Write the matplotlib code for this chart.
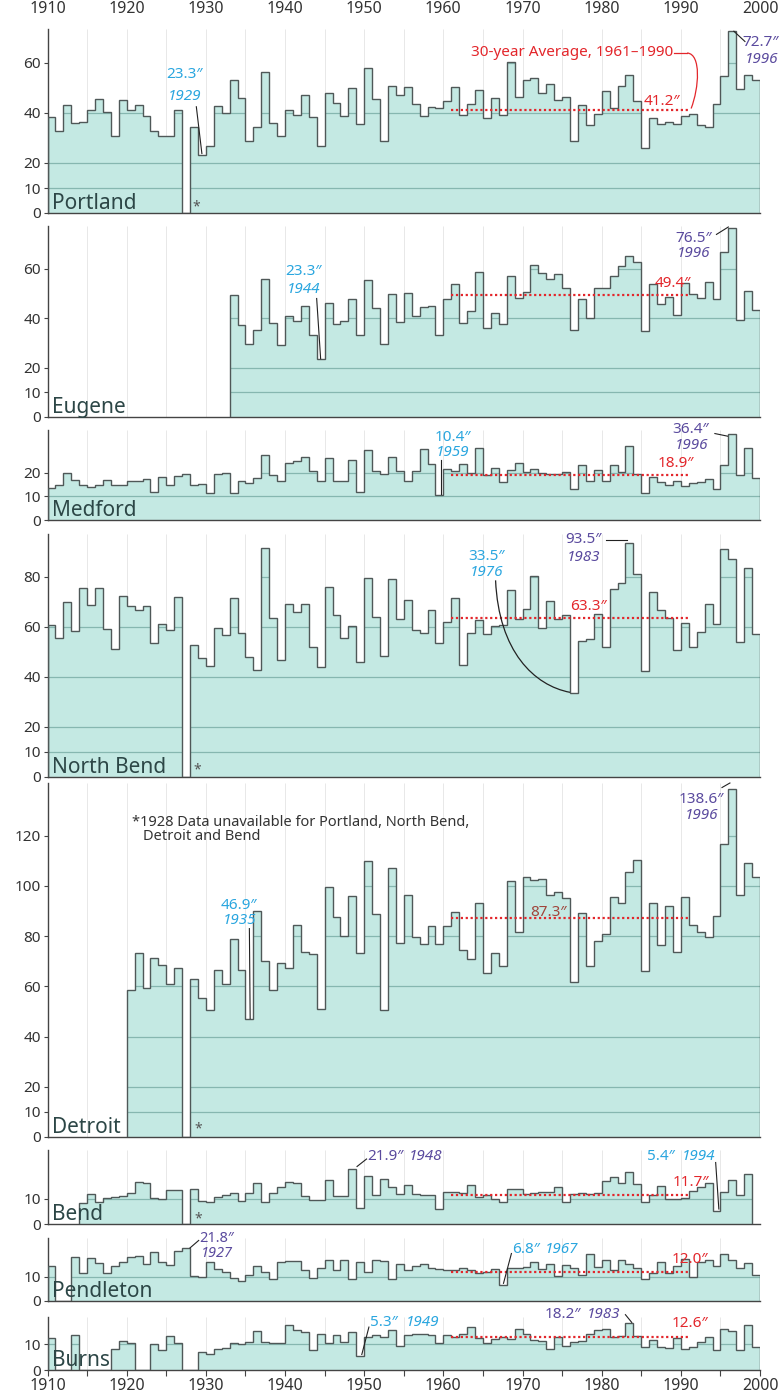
import numpy as np
import matplotlib.pyplot as plt
from matplotlib.path import Path
from matplotlib.patches import PathPatch

nan = np.nan
plt.rcParams['font.family'] = ['Noto Sans', 'DejaVu Sans']

# ---- data (annual precipitation, inches) ----
decades = list(range(1910, 2001, 10))

portland_start = 1910
portland = [38.3, 32.7, 43.3, 36.0, 36.3, 41.0, 45.7, 40.3, 31.0, 45.3,
            41.3, 43.0, 38.7, 32.7, 31.0, 31.0, 41.3, nan, 34.4, 23.3,
            27.0, 42.7, 40.0, 53.0, 46.0, 29.0, 34.3, 56.5, 36.0, 30.7,
            41.0, 39.0, 47.3, 38.3, 27.0, 48.0, 44.0, 38.7, 50.0, 35.6,
            58.0, 45.6, 29.0, 50.7, 47.0, 50.4, 43.6, 38.7, 42.3, 42.0,
            44.8, 50.3, 39.3, 43.7, 49.3, 38.0, 45.9, 39.3, 60.3, 46.4,
            53.3, 54.0, 48.0, 51.7, 45.3, 46.4, 28.7, 43.2, 35.0, 39.7,
            48.7, 41.9, 50.8, 55.3, 44.9, 26.1, 38.0, 35.7, 36.4, 35.6,
            38.7, 39.7, 35.3, 34.4, 43.7, 54.9, 72.7, 49.6, 55.3, 53.3]

eugene_start = 1933
eugene = [49.3, 37.0, 29.7, 35.0, 55.7, 38.1, 29.0, 41.0, 39.0, 44.7,
          33.3, 23.3, 46.0, 37.7, 38.7, 47.7, 33.0, 55.3, 44.0, 29.6,
          49.6, 38.3, 50.0, 41.0, 44.3, 45.0, 33.3, 47.6, 53.9, 38.0,
          42.7, 58.7, 36.0, 42.0, 37.6, 57.0, 48.3, 50.7, 61.3, 58.3,
          55.7, 57.6, 52.3, 35.3, 47.7, 40.0, 52.0, 52.0, 57.0, 61.0,
          65.0, 62.7, 34.7, 53.7, 45.6, 48.7, 41.3, 54.0, 49.6, 48.3,
          54.7, 47.6, 66.7, 76.5, 39.3, 51.0, 43.3]

medford_start = 1910
medford = [13.6, 14.6, 20.0, 17.0, 14.7, 13.9, 14.6, 17.0, 14.7, 14.7,
           16.6, 16.3, 17.4, 12.0, 18.0, 14.7, 18.4, 19.3, 14.6, 15.2,
           11.6, 19.3, 19.7, 11.6, 16.3, 15.6, 17.7, 27.5, 18.8, 16.6,
           24.2, 24.8, 26.5, 20.7, 16.3, 26.1, 16.3, 16.6, 25.2, 11.8,
           29.7, 20.7, 19.3, 26.7, 20.7, 16.6, 20.7, 29.9, 23.5, 10.4,
           21.4, 20.7, 23.8, 19.7, 30.3, 18.8, 21.8, 15.9, 21.1, 24.2,
           20.1, 21.4, 19.7, 19.3, 19.3, 20.4, 12.9, 23.1, 16.3, 21.1,
           16.6, 23.1, 20.1, 31.3, 19.3, 11.6, 18.0, 16.1, 14.7, 16.3,
           14.3, 15.6, 16.1, 17.4, 12.9, 23.1, 36.4, 19.0, 30.3, 17.7]

northbend_start = 1910
northbend = [60.5, 55.3, 70.0, 58.3, 75.6, 68.7, 75.6, 59.2, 51.0, 72.3,
             68.3, 66.7, 68.3, 53.6, 61.2, 58.5, 71.9, nan, 52.7, 47.6,
             44.3, 59.6, 56.7, 71.3, 57.6, 47.9, 42.7, 91.6, 63.6, 46.9,
             68.9, 66.0, 68.9, 51.9, 44.0, 76.0, 64.7, 55.3, 60.3, 45.9,
             79.6, 63.9, 48.5, 79.2, 63.2, 70.5, 58.5, 57.3, 66.5, 53.6,
             61.9, 71.3, 44.9, 57.6, 62.7, 57.2, 60.3, 60.7, 74.7, 62.9,
             66.9, 80.3, 59.6, 70.3, 62.9, 64.7, 33.5, 54.3, 54.9, 65.2,
             51.9, 74.9, 77.6, 93.5, 80.9, 42.3, 74.0, 66.5, 63.6, 50.5,
             61.6, 51.9, 58.0, 69.2, 60.9, 90.9, 86.9, 54.0, 83.6, 57.2]

detroit_start = 1920
detroit = [58.4, 73.3, 59.5, 71.4, 68.5, 61.0, 67.2, nan, 63.0, 55.5,
           50.5, 66.5, 61.0, 79.0, 66.5, 46.9, 90.0, 70.0, 58.5, 69.5,
           67.5, 84.5, 73.5, 73.0, 51.0, 99.7, 87.5, 80.2, 95.8, 73.2,
           110.0, 88.9, 50.5, 107.0, 77.2, 96.4, 79.6, 76.7, 84.2, 76.7,
           84.2, 89.5, 74.5, 70.7, 93.1, 65.3, 73.3, 68.0, 102.0, 81.8,
           103.4, 102.5, 102.8, 96.2, 97.5, 95.2, 61.9, 89.1, 68.0, 78.2,
           80.9, 95.5, 93.1, 105.4, 110.3, 66.0, 93.1, 76.3, 91.9, 73.6,
           95.5, 84.6, 81.6, 79.6, 88.2, 116.7, 138.6, 96.2, 109.0, 103.7]

bend_start = 1914
bend = [8.3, 12.0, 8.9, 10.3, 10.9, 11.2,
        12.5, 16.9, 16.3, 10.3, 9.9, 13.6, 13.6, nan, 13.9, 9.2,
        8.9, 10.9, 11.6, 12.5, 9.2, 12.3, 16.3, 8.9, 12.3, 14.9,
        16.9, 16.3, 11.2, 9.6, 9.6, 17.6, 11.2, 11.2, 21.9, 6.3,
        19.2, 11.6, 18.0, 14.7, 12.0, 15.6, 12.0, 11.6, 11.6, 6.0,
        12.9, 12.9, 12.5, 15.6, 10.9, 11.6, 9.9, 8.9, 14.0, 13.9,
        12.0, 12.5, 12.9, 12.9, 14.9, 8.9, 12.0, 12.3, 12.0, 12.3,
        17.3, 18.7, 16.3, 20.9, 16.0, 8.9, 11.6, 15.2, 9.9, 9.9,
        10.3, 13.3, 14.9, 16.3, 5.4, 12.9, 17.6, 11.6, 19.9]

pendleton_start = 1910
pendleton = [14.6, nan, nan, 18.3, 11.7, 17.6, 15.7, 11.4, 14.6, 16.0,
             18.1, 18.6, 15.4, 20.3, 16.0, 15.0, 20.8, 21.8, 10.3, 10.0,
             16.0, 13.1, 12.1, 9.3, 8.3, 10.7, 14.6, 12.1, 8.9, 16.0,
             16.4, 16.4, 12.9, 9.3, 13.6, 17.1, 12.9, 17.1, 8.9, 16.0,
             12.1, 17.1, 16.4, 8.9, 15.4, 12.9, 14.3, 15.4, 13.6, 13.1,
             12.9, 12.6, 13.6, 12.9, 11.7, 12.1, 13.1, 6.8, 13.6, 13.6,
             14.0, 16.0, 13.1, 15.4, 10.3, 15.0, 13.6, 10.7, 19.3, 14.0,
             17.1, 12.9, 17.1, 15.4, 13.6, 8.9, 11.7, 16.0, 11.4, 14.3,
             17.4, 10.0, 16.0, 17.1, 14.6, 19.3, 17.1, 13.6, 15.7, 10.7]

burns_start = 1910
burns = [12.2, nan, nan, 13.7, nan, nan, nan, nan, 8.0, 11.2,
         10.5, nan, nan, 9.9, 7.7, 13.1, 10.6, nan, nan, 6.8,
         6.2, 8.0, 8.6, 10.5, 9.9, 10.9, 15.1, 10.9, 10.6, 10.3,
         17.3, 15.6, 14.7, 7.7, 13.8, 10.5, 13.7, 10.9, 14.7, 5.3,
         12.8, 13.7, 12.8, 15.6, 9.2, 13.5, 14.1, 14.1, 13.5, 10.5,
         13.5, 12.6, 14.1, 16.7, 12.2, 10.5, 11.8, 12.6, 11.8, 16.0,
         14.1, 11.5, 11.3, 8.3, 12.6, 9.2, 10.9, 11.3, 14.1, 15.4,
         16.0, 12.8, 13.0, 18.2, 13.1, 9.0, 11.5, 9.0, 8.7, 12.2,
         8.0, 9.0, 10.9, 12.6, 7.7, 16.0, 15.1, 7.7, 17.3, 9.0]

averages = {'Portland': 41.2, 'Eugene': 49.4, 'Medford': 18.9, 'North Bend': 63.3,
            'Detroit': 87.3, 'Bend': 11.7, 'Pendleton': 12.0, 'Burns': 12.6}

FILL = '#c4e9e3'
EDGE = '#4f5858'
GRID = '#86b7b0'
CYAN = '#2aa6df'
PURPLE = '#5a4a9e'
RED = '#e3262b'
INK = '#333333'
NAME = '#2c4646'

fig = plt.figure(figsize=(7.8, 13.98), dpi=100)
W, H = 780, 1398


def panel(top, bottom, start, values, ymax, yticks, name, avg):
    ax = fig.add_axes([47.5 / W, 1 - bottom / H, (760 - 47.5) / W, (bottom - top) / H])
    v = np.nan_to_num(np.array(values, float))
    edges = np.arange(start, start + len(v) + 1)
    ax.vlines(np.arange(1915, 2000, 5), 0, ymax, colors='#e8e8e8', lw=0.7, zorder=0)
    patch = ax.stairs(v, edges, baseline=0, fill=True, color=FILL, lw=0, zorder=1)
    for t in yticks[1:]:
        ln, = ax.plot([1910, 2000], [t, t], color=GRID, lw=0.9, zorder=2)
        ln.set_clip_path(patch)
    ax.stairs(v, edges, baseline=0, fill=False, color=EDGE, lw=1.0, zorder=3)
    ax.plot([1961, 1991], [avg, avg], color=RED, lw=1.6, ls=(0, (1, 1.2)), zorder=4)
    ax.set_xlim(1910, 2000)
    ax.set_ylim(0, ymax)
    ax.set_yticks(yticks)
    ax.tick_params(axis='y', length=3, width=0.8, color='#444', labelsize=11,
                   labelcolor=INK, pad=1.5)
    ax.tick_params(axis='x', bottom=False, labelbottom=False)
    for s in ['top', 'right']:
        ax.spines[s].set_visible(False)
    for s in ['left', 'bottom']:
        ax.spines[s].set_color('#444')
        ax.spines[s].set_linewidth(1.0)
    ax.annotate(name, xy=(0, 0), xycoords='axes fraction', xytext=(3.5, 3.2),
                textcoords='offset points', va='baseline', ha='left',
                fontsize=15, color=NAME, zorder=6)
    return ax


def stacked(ax, x, y1, y2, val, year, color, size=11):
    ax.text(x, y1, val, color=color, ha='center', va='center', fontsize=size, zorder=6)
    ax.text(x, y2, year, color=color, ha='center', va='center', fontsize=size,
            style='italic', zorder=6)


def inline(ax, x1, x2, y, val, year, color):
    ax.text(x1, y, val, color=color, ha='left', va='center', fontsize=11, zorder=6)
    ax.text(x2, y, year, color=color, ha='left', va='center', fontsize=11,
            style='italic', zorder=6)


def leader(ax, xs, ys, color='#222'):
    ax.plot(xs, ys, color=color, lw=0.8, clip_on=False, zorder=5)


def curve(ax, pts, color='#222'):
    codes = [Path.MOVETO] + [Path.CURVE4] * (len(pts) - 1)
    ax.add_patch(PathPatch(Path(pts, codes), fill=False, ec=color, lw=0.9,
                           clip_on=False, zorder=5))


def star(ax, x, y):
    ax.text(x, y, '*', ha='center', va='center', fontsize=10, color='#555', zorder=6)


# Portland
ax = panel(29, 213, portland_start, portland, 73.6, [0, 10, 20, 40, 60], 'Portland',
           averages['Portland'])
ax.set_xticks(decades)
ax.tick_params(axis='x', top=False, bottom=False, labeltop=True, labelbottom=False,
               labelsize=11.5, labelcolor=INK, pad=5)
stacked(ax, 1927.3, 55.2, 46.4, '23.3″', '1929', CYAN)
leader(ax, [1928.8, 1929.5], [42.5, 23.8])
ax.text(2002.4, 68.3, '72.7″', color=PURPLE, ha='right', va='center', fontsize=11)
ax.text(2002.3, 61.5, '1996', color=PURPLE, ha='right', va='center', fontsize=11,
        style='italic')
leader(ax, [1996.7, 1998.1], [72.7, 68.6])
ax.text(1989.0, 64.0, '30-year Average, 1961–1990', color=RED, ha='right',
        va='center', fontsize=11)
ax.plot([1989.1, 1990.8], [64.0, 64.0], color=RED, lw=0.9, clip_on=False)
curve(ax, [(1990.8, 64.0), (1992.6, 63.6), (1992.3, 50.0), (1991.3, 41.8)], RED)
ax.text(1987.6, 44.6, '41.2″', color=RED, ha='center', va='center', fontsize=11)
star(ax, 1928.8, 2.4)

# Eugene
ax = panel(226, 417, eugene_start, eugene, 77.2, [0, 10, 20, 40, 60], 'Eugene',
           averages['Eugene'])
stacked(ax, 1942.3, 58.7, 51.4, '23.3″', '1944', CYAN)
leader(ax, [1944.0, 1944.5], [47.9, 23.6])
stacked(ax, 1991.6, 72.2, 65.9, '76.5″', '1996', PURPLE)
leader(ax, [1994.5, 1996.0], [73.8, 76.8])
ax.text(1989.0, 53.8, '49.4″', color=RED, ha='center', va='center', fontsize=11)

# Medford
ax = panel(430, 520, medford_start, medford, 38.0, [0, 10, 20], 'Medford',
           averages['Medford'])
stacked(ax, 1961.2, 34.7, 28.4, '10.4″', '1959', CYAN)
leader(ax, [1959.7, 1959.7], [25.5, 10.8])
stacked(ax, 1991.3, 38.3, 31.6, '36.4″', '1996', PURPLE)
leader(ax, [1994.3, 1995.9], [36.5, 35.4])
ax.text(1989.4, 23.7, '18.9″', color=RED, ha='center', va='center', fontsize=11)

# North Bend
ax = panel(534, 777, northbend_start, northbend, 97.0, [0, 10, 20, 40, 60, 80],
           'North Bend', averages['North Bend'])
stacked(ax, 1965.5, 88.0, 81.6, '33.5″', '1976', CYAN)
curve(ax, [(1966.6, 78.5), (1967.0, 50.0), (1971.5, 36.5), (1976.0, 33.8)])
stacked(ax, 1977.7, 94.8, 87.6, '93.5″', '1983', PURPLE)
leader(ax, [1980.6, 1983.2], [94.6, 94.6])
ax.text(1978.3, 68.0, '63.3″', color=RED, ha='center', va='center', fontsize=11)
star(ax, 1928.9, 2.8)

# Detroit
ax = panel(783, 1137, detroit_start, detroit, 141.0, [0, 10, 20, 40, 60, 80, 100, 120],
           'Detroit', averages['Detroit'])
ax.text(1920.7, 125.4, '*1928 Data unavailable for Portland, North Bend,', color=INK,
        ha='left', va='center', fontsize=10.5)
ax.text(1922.0, 119.8, 'Detroit and Bend', color=INK, ha='left', va='center',
        fontsize=10.5)
stacked(ax, 1934.2, 92.3, 86.3, '46.9″', '1935', CYAN)
leader(ax, [1935.5, 1935.6], [83.0, 47.2])
stacked(ax, 1992.6, 134.5, 128.0, '138.6″', '1996', PURPLE)
leader(ax, [1995.2, 1996.2], [139.2, 141.0])
ax.text(1973.3, 89.5, '87.3″', color='#a0453b', ha='center', va='center', fontsize=11)
star(ax, 1929.0, 3.4)

# Bend
ax = panel(1150, 1224, bend_start, bend, 29.6, [0, 10], 'Bend', averages['Bend'])
inline(ax, 1950.4, 1955.6, 27.2, '21.9″', '1948', PURPLE)
leader(ax, [1949.1, 1950.3], [23.0, 26.0])
inline(ax, 1985.7, 1990.1, 27.2, '5.4″', '1994', CYAN)
leader(ax, [1994.4, 1994.8], [24.6, 6.0])
ax.text(1991.3, 16.8, '11.7″', color=RED, ha='center', va='center', fontsize=11)
star(ax, 1929.0, 2.2)

# Pendleton
ax = panel(1238, 1301, pendleton_start, pendleton, 26.0, [0, 10], 'Pendleton',
           averages['Pendleton'])
stacked(ax, 1931.4, 26.0, 19.6, '21.8″', '1927', PURPLE, size=10.5)
leader(ax, [1928.0, 1929.1], [21.9, 25.0])
inline(ax, 1968.7, 1972.8, 21.4, '6.8″', '1967', CYAN)
leader(ax, [1968.6, 1967.6], [19.6, 7.3])
ax.text(1991.1, 17.2, '12.0″', color=RED, ha='center', va='center', fontsize=11)

# Burns
ax = panel(1317, 1370, burns_start, burns, 20.5, [0, 10], 'Burns', averages['Burns'])
inline(ax, 1950.7, 1955.3, 18.2, '5.3″', '1949', CYAN)
leader(ax, [1950.6, 1949.7], [16.6, 6.0])
inline(ax, 1972.8, 1978.1, 21.5, '18.2″', '1983', PURPLE)
leader(ax, [1983.0, 1983.8], [21.4, 18.4])
ax.text(1991.1, 18.0, '12.6″', color=RED, ha='center', va='center', fontsize=11)
ax.set_xticks(decades)
ax.set_xticks(np.arange(1915, 2000, 10), minor=True)
ax.tick_params(axis='x', which='both', bottom=True, labelbottom=True, direction='out',
               length=4, width=0.8, color='#444', labelsize=11.5, labelcolor=INK, pad=2)

fig.savefig('out.png', dpi=100)
